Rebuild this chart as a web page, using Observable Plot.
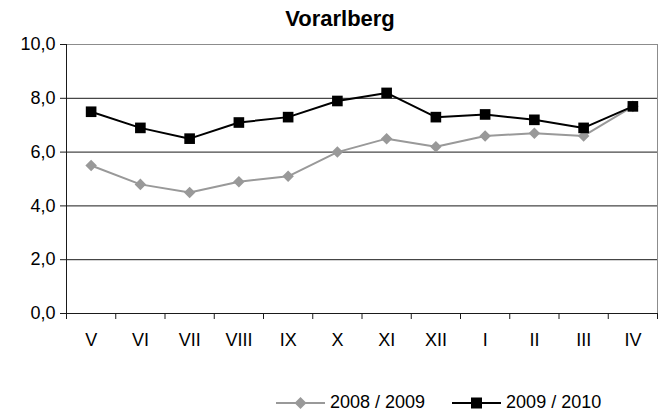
<!DOCTYPE html>
<html>
<head>
<meta charset="utf-8">
<script src="https://cdn.jsdelivr.net/npm/d3@7"></script>
<script src="https://cdn.jsdelivr.net/npm/@observablehq/plot@0.6"></script>
<style>
  html, body { margin: 0; padding: 0; background: #fff; }
  #wrap { position: relative; width: 660px; height: 414px; font-family: "Liberation Sans", Arial, sans-serif; }
  #title { position: absolute; left: 0; width: 680px; top: 6px; text-align: center; font-weight: bold; font-size: 22px; color: #000; }
  #chart { position: absolute; left: 0; top: 0; }
  #legend { position: absolute; top: 392px; left: 276px; font-size: 18px; display: flex; align-items: center; color: #000; }
  #legend .item { display: flex; align-items: center; }
  #legend svg { display: block; }
</style>
</head>
<body>
<div id="wrap">
  <div id="chart"></div>
  <div id="title">Vorarlberg</div>
  <div id="legend"></div>
</div>
<script>
const months = ["V","VI","VII","VIII","IX","X","XI","XII","I","II","III","IV"];
const series1Name = "2008 / 2009";
const series2Name = "2009 / 2010";
const series1 = [5.5, 4.8, 4.5, 4.9, 5.1, 6.0, 6.5, 6.2, 6.6, 6.7, 6.6, 7.7];
const series2 = [7.5, 6.9, 6.5, 7.1, 7.3, 7.9, 8.2, 7.3, 7.4, 7.2, 6.9, 7.7];
const yTicks = [0, 2, 4, 6, 8, 10];

const rows1 = months.map((m, i) => ({pos: i + 0.5, month: m, value: series1[i]}));
const rows2 = months.map((m, i) => ({pos: i + 0.5, month: m, value: series2[i]}));
const labelRows = months.map((m, i) => ({pos: i + 0.5, month: m}));

const fmt = d => d.toFixed(1).replace(".", ",");

const chart = Plot.plot({
  width: 660,
  height: 414,
  marginLeft: 66,
  marginRight: 3,
  marginTop: 44,
  marginBottom: 101,
  style: {fontFamily: "'Liberation Sans', Arial, sans-serif", fontSize: "18px", color: "#000", background: "#fff"},
  x: {type: "linear", domain: [0, months.length], axis: null, label: null},
  y: {domain: [0, 10], axis: null, label: null},
  marks: [
    Plot.frame({stroke: "#8c8c8c", strokeWidth: 1}),
    Plot.ruleY([0, 2, 4, 6, 8], {stroke: "#1a1a1a", strokeWidth: 1}),
    Plot.ruleX([0], {stroke: "#1a1a1a", strokeWidth: 1}),
    Plot.axisY({ticks: yTicks, tickFormat: fmt, tickSize: 6, tickPadding: 5, stroke: "#1a1a1a", fontSize: 18, label: null}),
    Plot.axisX({ticks: d3.range(months.length + 1), tickSize: 6, tickFormat: () => "", stroke: "#1a1a1a", label: null}),
    Plot.text(labelRows, {x: "pos", y: 0, text: "month", dy: 27, fontSize: 18, lineAnchor: "middle"}),
    Plot.line(rows1, {x: "pos", y: "value", stroke: "#999999", strokeWidth: 2}),
    Plot.dot(rows1, {x: "pos", y: "value", symbol: "diamond2", r: 5.2, fill: "#999999", stroke: "none"}),
    Plot.line(rows2, {x: "pos", y: "value", stroke: "#000", strokeWidth: 2}),
    Plot.dot(rows2, {x: "pos", y: "value", symbol: "square", r: 6, fill: "#000", stroke: "none"})
  ]
});
document.getElementById("chart").appendChild(chart);

// legend
const legend = document.getElementById("legend");
function item(name, color, shape, gapAfter) {
  const div = document.createElement("div");
  div.className = "item";
  div.style.marginRight = gapAfter + "px";
  const ns = "http://www.w3.org/2000/svg";
  const svg = document.createElementNS(ns, "svg");
  svg.setAttribute("width", 50); svg.setAttribute("height", 14);
  const line = document.createElementNS(ns, "line");
  line.setAttribute("x1", 0); line.setAttribute("x2", 49); line.setAttribute("y1", 7); line.setAttribute("y2", 7);
  line.setAttribute("stroke", color); line.setAttribute("stroke-width", 2);
  svg.appendChild(line);
  let m;
  if (shape === "diamond") {
    m = document.createElementNS(ns, "path");
    m.setAttribute("d", "M24.5,1 L30.5,7 L24.5,13 L18.5,7 Z");
  } else {
    m = document.createElementNS(ns, "rect");
    m.setAttribute("x", 19); m.setAttribute("y", 1.5); m.setAttribute("width", 11); m.setAttribute("height", 11);
  }
  m.setAttribute("fill", color);
  svg.appendChild(m);
  div.appendChild(svg);
  const span = document.createElement("span");
  span.textContent = name;
  span.style.marginLeft = "4px";
  div.appendChild(span);
  legend.appendChild(div);
}
item(series1Name, "#999999", "diamond", 27);
item(series2Name, "#000", "square", 0);
</script>
</body>
</html>
